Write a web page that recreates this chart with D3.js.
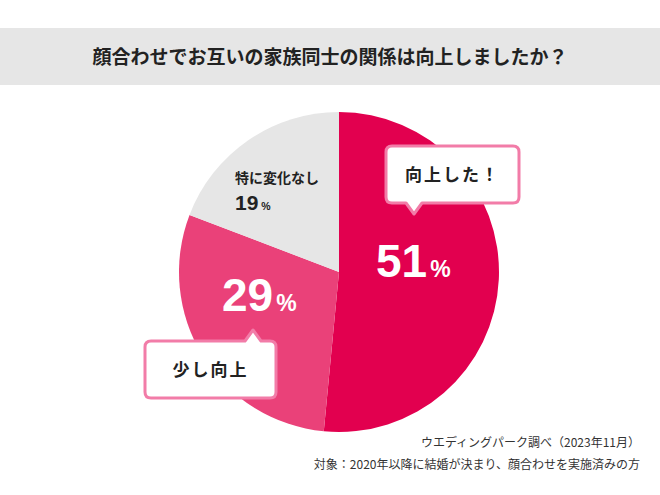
<!DOCTYPE html>
<html><head><meta charset="utf-8">
<script src="https://cdn.jsdelivr.net/npm/d3@7"></script>
<style>body{margin:0;background:#fff}svg{font-family:"Noto Sans CJK JP",sans-serif}</style>
</head><body><svg id="chart" width="660" height="495"></svg>
<script>
const categories = ['向上した！', '少し向上', '特に変化なし'];
const values = [51, 29, 19];
const colors = ['#e2004f', '#ea4179', '#e6e6e6'];

const svg = d3.select('#chart');
const cx = 339, cy = 272, r = 160;

// title band
svg.append('rect').attr('x', 0).attr('y', 28).attr('width', 660).attr('height', 57).attr('fill', '#e6e6e6');
svg.append('text').attr('x', 330).attr('y', 64).attr('text-anchor', 'middle')
  .attr('font-size', 19).attr('font-weight', 'bold').attr('fill', '#222')
  .text('顔合わせでお互いの家族同士の関係は向上しましたか？');

const pie = d3.pie().sort(null).value(d => d);
const arc = d3.arc().innerRadius(0).outerRadius(r);
const g = svg.append('g').attr('transform', `translate(${cx},${cy})`);
g.selectAll('path').data(pie(values)).enter().append('path')
  .attr('d', arc).attr('fill', (d, i) => colors[i]);

// percentage labels
function pct(x, y, v, size, color) {
  const t = svg.append('text').attr('x', x).attr('y', y).attr('fill', color)
    .attr('font-family', 'Liberation Sans, Arial, sans-serif').attr('font-weight', 'bold');
  t.append('tspan').attr('font-size', size).text(v);
  t.append('tspan').attr('font-size', size * 0.5).attr('dx', 3).text('%');
}
pct(376, 277, values[0], 46, '#fff');
pct(222, 311, values[1], 46, '#fff');
svg.append('text').attr('x', 235).attr('y', 183).attr('font-size', 14).attr('font-weight', 'bold')
  .attr('fill', '#222').text(categories[2]);
pct(235, 210, values[2], 21, '#222');

// callouts
function callout(x, y, w, h, px, up, label) {
  const p = d3.path();
  const rr = 6;
  p.moveTo(x + rr, y);
  if (up) { p.lineTo(px - 8, y); p.lineTo(px, y - 11); p.lineTo(px + 8, y); }
  p.lineTo(x + w - rr, y); p.quadraticCurveTo(x + w, y, x + w, y + rr);
  p.lineTo(x + w, y + h - rr); p.quadraticCurveTo(x + w, y + h, x + w - rr, y + h);
  if (!up) { p.lineTo(px + 8, y + h); p.lineTo(px, y + h + 11); p.lineTo(px - 8, y + h); }
  p.lineTo(x + rr, y + h); p.quadraticCurveTo(x, y + h, x, y + h - rr);
  p.lineTo(x, y + rr); p.quadraticCurveTo(x, y, x + rr, y); p.closePath();
  svg.append('path').attr('d', p.toString()).attr('fill', '#fff')
    .attr('stroke', '#f27ca8').attr('stroke-width', 3).attr('stroke-linejoin', 'round');
  svg.append('text').attr('x', x + w / 2).attr('y', y + h / 2 + 6).attr('text-anchor', 'middle')
    .attr('font-size', 17).attr('font-weight', 'bold').attr('fill', '#222')
    .attr('letter-spacing', 2).text(label);
}
callout(386, 146, 133, 57, 414, false, categories[0]);
callout(145, 341, 131, 57, 253, true, categories[1]);

// source notes
svg.append('text').attr('x', 640).attr('y', 447).attr('text-anchor', 'end')
  .attr('font-size', 12).attr('fill', '#333').text('ウエディングパーク調べ（2023年11月）');
svg.append('text').attr('x', 640).attr('y', 469).attr('text-anchor', 'end')
  .attr('font-size', 12).attr('fill', '#333').text('対象：2020年以降に結婚が決まり、顔合わせを実施済みの方');
</script></body></html>
